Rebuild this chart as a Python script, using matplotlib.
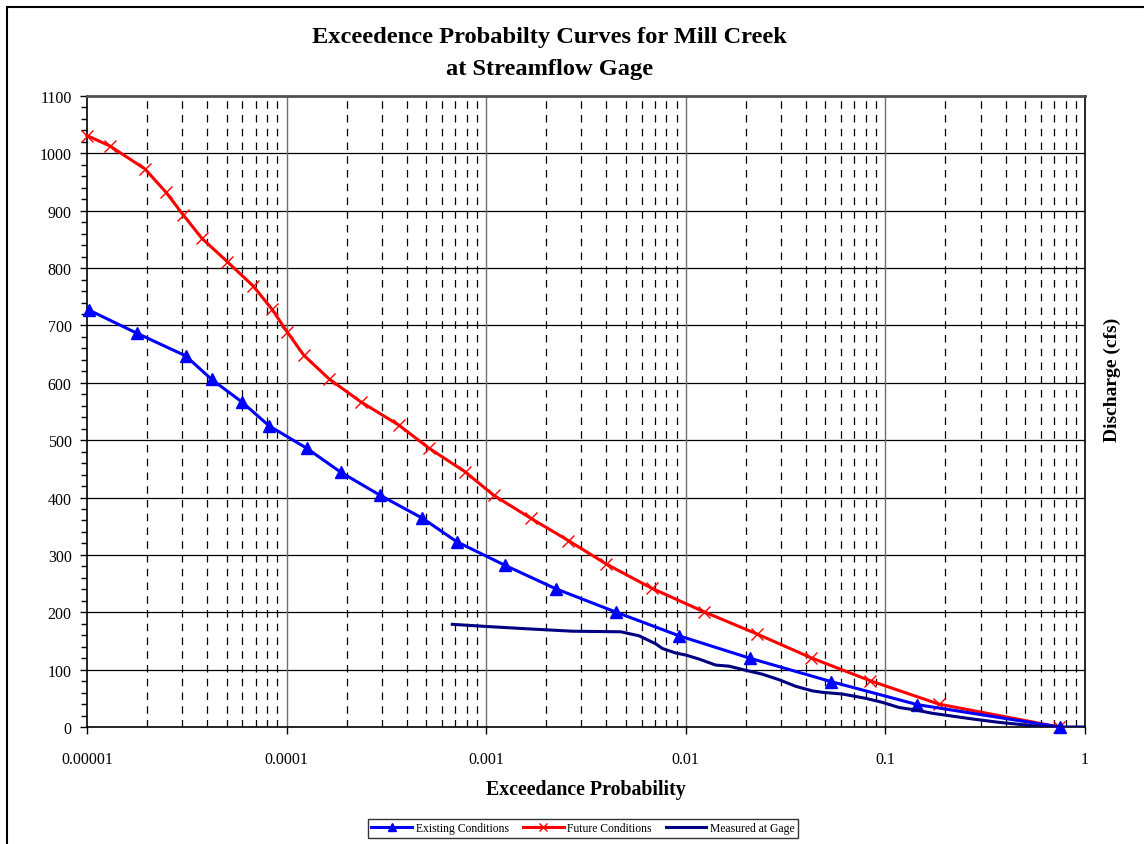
import matplotlib
matplotlib.use("Agg")
import matplotlib.pyplot as plt
from matplotlib.ticker import FixedLocator, NullFormatter, MultipleLocator, FixedFormatter
from matplotlib.patches import Rectangle

plt.rcParams["font.family"] = ["Liberation Serif", "DejaVu Serif"]

# Existing conditions
existing_p = [1.02e-5, 1.79e-5, 3.12e-5, 4.21e-5, 6.0e-5, 8.17e-5, 1.26e-4, 1.87e-4,
              2.94e-4, 4.79e-4, 7.12e-4, 1.24e-3, 2.23e-3, 4.49e-3, 9.25e-3, 0.0209,
              0.0536, 0.1445, 0.746]
existing_q = [727, 686, 647, 606, 566, 525, 486, 444, 404, 364, 323, 282, 241, 200,
              159, 120, 79, 39, 0]

# Future conditions
future_p = [1.0e-5, 1.30e-5, 1.95e-5, 2.49e-5, 3.03e-5, 3.76e-5, 5.05e-5, 6.79e-5,
            8.42e-5, 1.01e-4, 1.22e-4, 1.63e-4, 2.35e-4, 3.66e-4, 5.17e-4, 7.83e-4,
            1.09e-3, 1.67e-3, 2.58e-3, 4.0e-3, 6.74e-3, 0.0123, 0.0228, 0.0422,
            0.0834, 0.185, 0.74]
future_q = [1031, 1013, 973, 932, 893, 852, 811, 769, 729, 688, 648, 607, 567, 526,
            486, 445, 404, 364, 325, 284, 242, 201, 162, 121, 81, 40, 0]

# Measured at gage
gage_p = [6.76e-4, 9.75e-4, 1.64e-3, 2.70e-3, 4.72e-3, 5.83e-3, 7.07e-3, 7.62e-3,
          8.89e-3, 9.98e-3, 0.01164, 0.0141, 0.0165, 0.0199, 0.0242, 0.0293, 0.0355,
          0.043, 0.0483, 0.0608, 0.0796, 0.0965, 0.117, 0.142, 0.172, 0.208, 0.273,
          0.371, 0.545, 0.686, 0.99]
gage_q = [179, 175.5, 171, 167, 166, 159, 145, 137, 129, 125.5, 118.5, 108, 106, 99,
          92, 82.5, 71, 63, 60.5, 57.5, 50, 43, 34, 29.6, 23.9, 19.8, 14, 8.1, 2.3,
          0, 0]

decade_ticks = [1e-5, 1e-4, 1e-3, 1e-2, 1e-1, 1]
decade_labels = ["0.00001", "0.0001", "0.001", "0.01", "0.1", "1"]

W, H = 1144, 845
fig = plt.figure(figsize=(W / 100, H / 100), dpi=100)

# outer frame of the chart area
fig.add_artist(Rectangle((7 / W, -0.05), 1.2, (H - 8) / H + 0.05,
                         transform=fig.transFigure, fill=False,
                         edgecolor="black", linewidth=1.5))

left, right, top, bottom = 87, 1085, 97, 728
ax = fig.add_axes([left / W, 1 - bottom / H, (right - left) / W, (bottom - top) / H])

ax.set_xscale("log")
ax.set_xlim(1e-5, 1)
ax.set_ylim(0, 1100)

# grid: solid horizontal lines, solid grey decades, dashed black minor verticals
minor_x = [m * 10.0 ** e for e in range(-5, 0) for m in range(2, 10)]
for yv in range(100, 1100, 100):
    ax.axhline(yv, color="black", linewidth=0.9, zorder=1)
for xv in decade_ticks[1:-1]:
    ax.axvline(xv, color="#707070", linewidth=1.0, zorder=1)
for xv in minor_x:
    ax.axvline(xv, color="black", linewidth=0.9, linestyle=(0, (6, 5)), zorder=1)

ax.plot(existing_p, existing_q, color="#0000FF", linewidth=2.2, marker="^",
        markersize=8, label="Existing Conditions", zorder=4, clip_on=False)
ax.plot(future_p, future_q, color="#FF0000", linewidth=2.2, marker="x",
        markersize=8, markeredgewidth=1.0, label="Future Conditions", zorder=3,
        clip_on=False)
ax.plot(gage_p, gage_q, color="#000080", linewidth=2.2,
        label="Measured at Gage", zorder=5)

ax.xaxis.set_major_locator(FixedLocator(decade_ticks))
ax.xaxis.set_major_formatter(FixedFormatter(decade_labels))
ax.xaxis.set_minor_locator(FixedLocator([]))
ax.xaxis.set_minor_formatter(NullFormatter())
ax.yaxis.set_major_locator(MultipleLocator(100))
ax.yaxis.set_minor_locator(MultipleLocator(20))

ax.tick_params(axis="both", which="major", direction="out", length=5, width=1,
               labelsize=11.5, colors="black")
ax.tick_params(axis="y", which="minor", direction="out", length=4, width=1)
ax.tick_params(axis="x", which="major", pad=12)
ax.tick_params(axis="y", which="major", pad=6)

for side in ["left", "bottom", "right"]:
    ax.spines[side].set_color("black")
    ax.spines[side].set_linewidth(1.2)
ax.spines["top"].set_color("#505050")
ax.spines["top"].set_linewidth(2.0)

ax.set_xlabel("Exceedance Probability", fontsize=14.3, fontweight="bold", labelpad=9)

fig.text(1112 / W, 1 - 380 / H, "Discharge (cfs)", rotation=90,
         ha="center", va="center", fontsize=14, fontweight="bold")

title_x = 0.5 * (312 + 787) / W
fig.text(title_x, 1 - 38 / H, "Exceedence Probabilty Curves for Mill Creek",
         ha="center", va="center", fontsize=17.6, fontweight="bold")
fig.text(title_x, 1 - 70 / H, "at Streamflow Gage",
         ha="center", va="center", fontsize=17.6, fontweight="bold")

leg = fig.legend(loc="center", bbox_to_anchor=(583 / W, 1 - 829 / H), ncol=3,
                 fontsize=8.4, frameon=True, fancybox=False, edgecolor="black",
                 handlelength=3.5, handletextpad=0.3, columnspacing=1.2,
                 borderpad=0.3, markerscale=0.7)
leg.get_frame().set_linewidth(1.0)

fig.savefig("out.png", dpi=100)
